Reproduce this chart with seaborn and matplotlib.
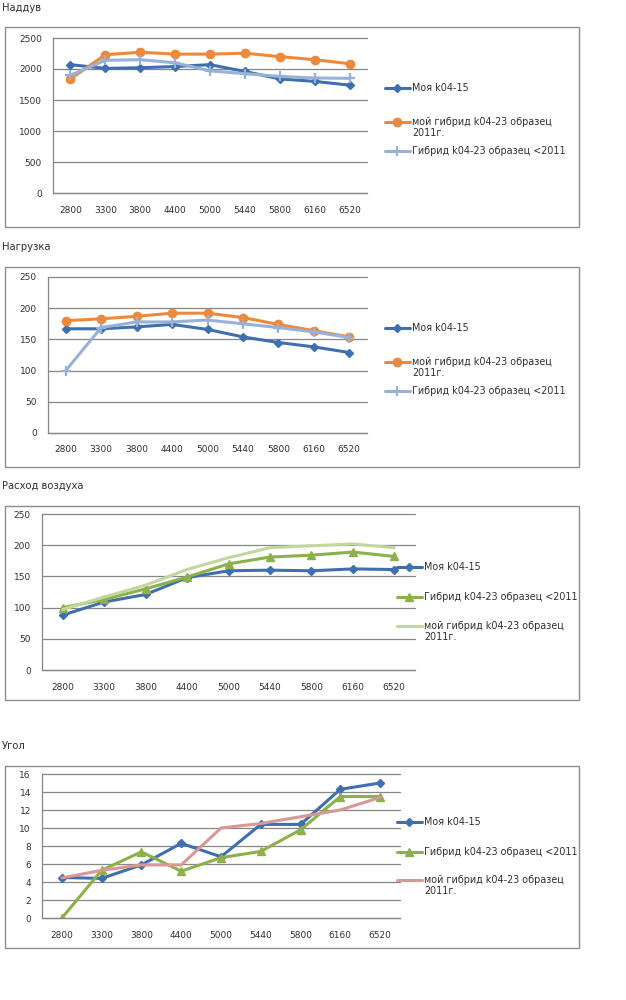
import numpy as np
import pandas as pd
import matplotlib
matplotlib.use("Agg")
import matplotlib.pyplot as plt
import seaborn as sns
from matplotlib.patches import Rectangle
from matplotlib.ticker import FixedLocator
from matplotlib.legend import Legend

# ---------------- data ----------------
rpm = ["2800", "3300", "3800", "4400", "5000", "5440", "5800", "6160", "6520"]

lbl_my = "Моя k04-15"
lbl_2011 = "мой гибрид k04-23 образец\n2011г."
lbl_old = "Гибрид k04-23 образец <2011"

titles = ["Наддув", "Нагрузка", "Расход воздуха", "Угол"]

boost_my = [2070, 2010, 2020, 2040, 2070, 1960, 1840, 1800, 1740]
boost_2011 = [1840, 2230, 2270, 2240, 2240, 2255, 2200, 2150, 2085]
boost_old = [1900, 2140, 2150, 2100, 1970, 1925, 1880, 1855, 1850]
boost_ticks = [0, 500, 1000, 1500, 2000, 2500]

load_my = [167, 167, 170, 174, 166, 154, 145, 138, 129]
load_2011 = [180, 183, 187, 192, 192, 185, 174, 164, 154]
load_old = [100, 169, 178, 178, 181, 175, 169, 162, 153]
load_ticks = [0, 50, 100, 150, 200, 250]

air_my = [88, 109, 121, 148, 159, 160, 159, 162, 161]
air_old = [100, 113, 130, 149, 170, 181, 184, 189, 182]
air_2011 = [97, 117, 136, 161, 180, 196, 199, 202, 196]
air_ticks = [0, 50, 100, 150, 200, 250]

angle_my = [4.5, 4.4, 5.9, 8.3, 6.8, 10.4, 10.4, 14.3, 15.0]
angle_old = [0, 5.3, 7.35, 5.2, 6.7, 7.4, 9.8, 13.5, 13.5]
angle_2011 = [4.45, 5.3, 5.9, 5.9, 10.0, 10.5, 11.25, 12.0, 13.4]
angle_ticks = [0, 2, 4, 6, 8, 10, 12, 14, 16]

# ---------------- style ----------------
sns.set_style("white")
plt.rcParams["font.family"] = ["DejaVu Sans"]
FS = 6.5
FS_LEG = 6.9
FS_TITLE = 7.2
TXT = "#303030"
GRID = "#878787"

C_BLUE = "#3F6FAE"
C_ORANGE = "#EB8A3C"
C_LBLUE = "#97B2D6"
C_GREEN = "#8DB04A"
C_LGREEN = "#C2D79C"
C_PINK = "#D99795"

W, H = 626, 1000
fig = plt.figure(figsize=(W / 100, H / 100), dpi=100)

pending = []


def fr(x0, y0, x1, y1):
    return [x0 / W, 1 - y1 / H, (x1 - x0) / W, (y1 - y0) / H]


def chart(title, ty, box, arect, series, yticks, key_x, leg_ys):
    fig.text(2 / W, 1 - ty / H, title, fontsize=FS_TITLE, color=TXT, va="center", ha="left")
    bx0, by0, bx1, by1 = box
    fig.add_artist(Rectangle((bx0 / W, 1 - by1 / H), (bx1 - bx0) / W, (by1 - by0) / H,
                             transform=fig.transFigure, fill=False, ec="#8c8c8c", lw=1.0))
    ax = fig.add_axes(fr(*arect))
    for vals, lab, col, mk, ms, lw, mew in series:
        df = pd.DataFrame({"rpm": rpm, "v": vals})
        sns.lineplot(data=df, x="rpm", y="v", ax=ax, color=col, lw=lw, marker=mk,
                     ms=ms, mec=col, mfc=col, mew=mew, sort=False, legend=False)
    ax.set_xlim(-0.5, len(rpm) - 0.5)
    ax.set_ylim(yticks[0], yticks[-1])
    ax.set_yticks(yticks)
    ax.yaxis.grid(True, color=GRID, lw=0.9)
    ax.xaxis.grid(False)
    ax.set_axisbelow(True)
    ax.set_xticks(range(len(rpm)))
    ax.set_xticklabels(rpm)
    ax.xaxis.set_minor_locator(FixedLocator(np.arange(-0.5, len(rpm), 1.0)))
    ax.tick_params(axis="x", which="major", length=0, pad=9, labelsize=FS, labelcolor=TXT)
    ax.tick_params(axis="x", which="minor", length=4, width=0.9, color=GRID, direction="out")
    ax.tick_params(axis="y", which="major", length=4, width=0.9, color=GRID, direction="out",
                   pad=4, labelsize=FS, labelcolor=TXT)
    ax.set_xlabel("")
    ax.set_ylabel("")
    sns.despine(ax=ax)
    for s in ["left", "bottom"]:
        ax.spines[s].set_color(GRID)
        ax.spines[s].set_linewidth(0.9)
    for gl in ax.get_ygridlines():
        gl.set_clip_on(False)
    for line, (vals, lab, *_), y in zip(ax.get_lines(), series, leg_ys):
        parts = lab.split("\n")
        leg = Legend(ax, [line], [parts[0]], loc="center left",
                     bbox_to_anchor=(key_x / W, 1 - y / H), bbox_transform=fig.transFigure,
                     frameon=False, fontsize=FS_LEG, handlelength=2.6, handletextpad=0.2,
                     borderpad=0, borderaxespad=0, labelcolor=TXT)
        ax.add_artist(leg)
        if len(parts) > 1:
            pending.append((leg, parts[1], y + 10.5))
    return ax


chart(titles[0], 8, (5, 27, 579, 227), (53, 38, 367, 193),
      [(boost_my, lbl_my, C_BLUE, "D", 4.0, 2.2, 1),
       (boost_2011, lbl_2011, C_ORANGE, "o", 6.0, 2.2, 1),
       (boost_old, lbl_old, C_LBLUE, "+", 6.5, 2.2, 1.6)],
      boost_ticks, 385, [88, 122, 151])

chart(titles[1], 247, (5, 267, 579, 467), (48, 277, 367, 433),
      [(load_my, lbl_my, C_BLUE, "D", 4.0, 2.2, 1),
       (load_2011, lbl_2011, C_ORANGE, "o", 6.0, 2.2, 1),
       (load_old, lbl_old, C_LBLUE, "+", 6.5, 2.2, 1.6)],
      load_ticks, 385, [328, 362, 391])

chart(titles[2], 486, (5, 506, 579, 700), (42, 514, 415, 670),
      [(air_my, lbl_my, C_BLUE, "D", 4.0, 2.2, 1),
       (air_old, lbl_old, C_GREEN, "^", 5.5, 2.2, 1),
       (air_2011, lbl_2011, C_LGREEN, None, 0, 2.2, 1)],
      air_ticks, 397, [567, 597, 626])

chart(titles[3], 746, (5, 766, 579, 948), (42, 774, 400, 918),
      [(angle_my, lbl_my, C_BLUE, "D", 4.0, 2.2, 1),
       (angle_old, lbl_old, C_GREEN, "^", 5.5, 2.2, 1),
       (angle_2011, lbl_2011, C_PINK, None, 0, 2.2, 1)],
      angle_ticks, 397, [822, 852, 880])

fig.canvas.draw()
for leg, txt, y in pending:
    bb = leg.get_texts()[0].get_window_extent()
    fig.text(bb.x0 / W, 1 - y / H, txt, fontsize=FS_LEG, color=TXT, va="center", ha="left")

fig.savefig("out.png", dpi=100)
